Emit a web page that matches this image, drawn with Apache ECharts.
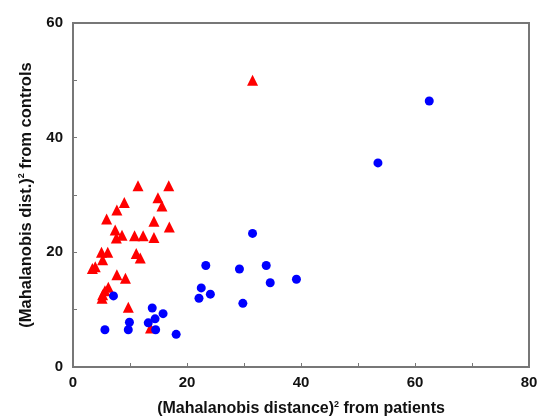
<!DOCTYPE html>
<html>
<head>
<meta charset="utf-8">
<script src="https://cdn.jsdelivr.net/npm/echarts@6/dist/echarts.min.js"></script>
<style>
html,body{margin:0;padding:0;background:#fff;}
#chart{width:537px;height:418px;}
</style>
</head>
<body>
<div id="chart"></div>
<script>
// Red triangles (x = distance from patients, y = distance from controls)
const redX = [31.5, 11.4, 16.8, 14.9, 15.6, 9.0, 7.7, 5.9, 14.2, 16.9, 7.4, 8.6, 7.6, 10.8, 12.3, 14.2, 5.0, 6.1, 11.1, 11.8, 5.2, 3.9, 3.4, 7.7, 9.2, 6.2, 5.6, 5.2, 5.1, 9.7, 13.6];
const redY = [50.0, 31.6, 31.6, 29.5, 28.1, 28.7, 27.4, 25.8, 25.4, 24.4, 23.9, 23.0, 22.5, 22.9, 22.9, 22.6, 20.0, 20.0, 19.8, 19.0, 18.7, 17.5, 17.2, 16.1, 15.5, 13.9, 13.3, 12.6, 12.0, 10.4, 6.8];
// Blue circles
const blueX = [62.5, 53.5, 31.5, 23.3, 29.2, 33.9, 39.2, 34.6, 22.5, 24.1, 22.1, 29.8, 7.1, 13.9, 15.8, 14.4, 9.9, 13.2, 9.7, 14.5, 5.6, 18.1];
const blueY = [46.4, 35.6, 23.3, 17.7, 17.1, 17.7, 15.3, 14.7, 13.8, 12.7, 12.0, 11.1, 12.4, 10.3, 9.3, 8.4, 7.8, 7.7, 6.5, 6.5, 6.5, 5.7];
const xLabels = [0, 20, 40, 60, 80];
const yLabels = [0, 20, 40, 60];

const zip = (xs, ys) => xs.map((x, i) => [x, ys[i]]);
const font = '"Liberation Sans", Arial, sans-serif';
const frame = '#777';
const supStyle = {fontSize: 9, fontWeight: 'bold', fontFamily: font, color: '#111', verticalAlign: 'top', padding: [0, 0, 9, 0]};

const chart = echarts.init(document.getElementById('chart'), null, {renderer: 'canvas'});
chart.setOption({
  animation: false,
  backgroundColor: '#fff',
  grid: {left: 73, right: 8, top: 23, bottom: 51, containLabel: false, outerBoundsMode: 'none',
    show: true, borderColor: frame, borderWidth: 2, backgroundColor: 'transparent'},
  xAxis: {
    type: 'value', min: 0, max: 80, interval: 10,
    splitLine: {show: false},
    axisLine: {lineStyle: {color: frame, width: 2}},
    axisTick: {inside: true, length: 4, lineStyle: {color: frame, width: 1}},
    axisLabel: {margin: 8, color: '#111', fontFamily: font, fontWeight: 'bold', fontSize: 15,
      formatter: v => xLabels.includes(v) ? String(v) : ''},
    name: '(Mahalanobis distance){sup|2} from patients',
    nameLocation: 'middle', nameGap: 33,
    nameTextStyle: {color: '#111', fontFamily: font, fontWeight: 'bold', fontSize: 16, rich: {sup: supStyle}}
  },
  yAxis: {
    type: 'value', min: 0, max: 60, interval: 10,
    splitLine: {show: false},
    axisLine: {lineStyle: {color: frame, width: 2}},
    axisTick: {inside: true, length: 4, lineStyle: {color: frame, width: 1}},
    axisLabel: {margin: 10, color: '#111', fontFamily: font, fontWeight: 'bold', fontSize: 15,
      formatter: v => yLabels.includes(v) ? String(v) : ''},
    name: '(Mahalanobis dist.){sup|2} from controls',
    nameLocation: 'middle', nameGap: 38, nameRotate: 90,
    nameTextStyle: {color: '#111', fontFamily: font, fontWeight: 'bold', fontSize: 16.5, rich: {sup: supStyle}}
  },
  series: [
    {type: 'scatter', data: zip(redX, redY), symbol: 'triangle', symbolSize: 11,
      itemStyle: {color: '#ff0000', opacity: 1}},
    {type: 'scatter', data: zip(blueX, blueY), symbol: 'circle', symbolSize: 9,
      itemStyle: {color: '#0000ff', opacity: 1}}
  ]
});
</script>
</body>
</html>
